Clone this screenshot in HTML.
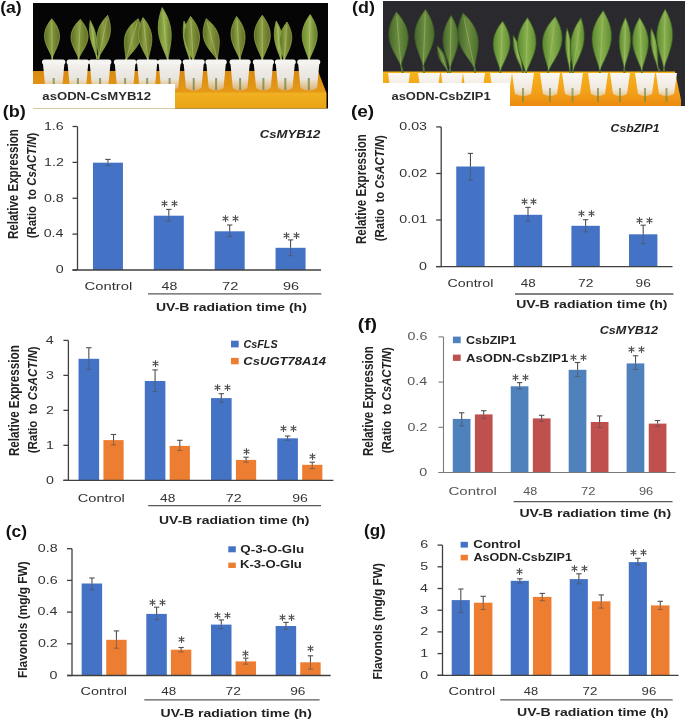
<!DOCTYPE html><html><head><meta charset="utf-8"><style>html,body{margin:0;padding:0;background:#fff;}svg{display:block;filter:blur(0.3px);}text{font-family:"Liberation Sans", sans-serif;}</style></head><body>
<svg width="685" height="721" viewBox="0 0 685 721">
<rect x="0.00" y="0.00" width="685.00" height="721.00" fill="#ffffff"/>
<rect x="33.00" y="3.00" width="295.00" height="105.50" fill="#050505"/>
<defs><linearGradient id="rackA" x1="0" y1="0" x2="0" y2="1"><stop offset="0" stop-color="#d98a10"/><stop offset="0.55" stop-color="#e49a18"/><stop offset="0.6" stop-color="#f0b020"/><stop offset="1" stop-color="#eaa414"/></linearGradient><linearGradient id="lfA" x1="0" y1="0" x2="1" y2="0"><stop offset="0" stop-color="#5a6e22"/><stop offset="0.45" stop-color="#8c9e44"/><stop offset="0.6" stop-color="#7a9034"/><stop offset="1" stop-color="#6a6a2a"/></linearGradient><linearGradient id="lfA2" x1="0" y1="0" x2="1" y2="0"><stop offset="0" stop-color="#6a8a2a"/><stop offset="0.5" stop-color="#98b050"/><stop offset="1" stop-color="#5f7a26"/></linearGradient><linearGradient id="tubeA" x1="0" y1="0" x2="0" y2="1"><stop offset="0" stop-color="#f4f2ee"/><stop offset="0.6" stop-color="#e8e4de"/><stop offset="0.66" stop-color="#e9dcc4"/><stop offset="1" stop-color="#dcb070"/></linearGradient></defs>
<polygon points="33,71 318,71 326.5,93 326.5,108.5 33,108.5" fill="url(#rackA)"/>
<path d="M52.3,60.0L52.2,56.0" stroke="#98b048" stroke-width="1.6"/>
<path d="M52.3,58.0 C54.1,52.1 59.6,44.2 59.5,36.3 S54.8,22.7 51.7,18.8 C48.8,22.8 44.3,28.7 44.5,36.5 S50.3,52.1 52.3,58.0Z" fill="url(#lfA)" stroke="#98b048" stroke-width="0.7"/>
<path d="M52.3,57.2L51.7,21.9" stroke="#c8c890" stroke-width="0.8" opacity="0.6"/>
<path d="M78.5,60.5L78.7,56.5" stroke="#98b048" stroke-width="1.6"/>
<path d="M78.6,58.5 C81.0,52.7 87.7,45.2 88.0,37.3 S83.5,23.4 80.3,19.3 C76.7,23.1 71.4,28.7 71.0,36.6 S76.7,52.5 78.6,58.5Z" fill="url(#lfA)" stroke="#98b048" stroke-width="0.7"/>
<path d="M78.6,57.7L80.2,22.4" stroke="#c8c890" stroke-width="0.8" opacity="0.6"/>
<path d="M97.2,59.0L96.5,55.1" stroke="#98b048" stroke-width="1.6"/>
<path d="M96.8,57.0 C96.6,51.4 97.5,43.7 96.1,36.4 S92.0,23.9 90.2,20.5 C89.7,24.4 88.9,30.2 90.2,37.5 S95.1,51.7 96.8,57.0Z" fill="url(#lfA2)" stroke="#98b048" stroke-width="0.7"/>
<path d="M96.7,56.3L90.7,23.4" stroke="#c8c890" stroke-width="0.8" opacity="0.6"/>
<path d="M98.4,59.0L99.2,55.1" stroke="#98b048" stroke-width="1.6"/>
<path d="M98.8,57.0 C101.7,51.1 108.0,43.7 109.8,35.4 S109.3,20.0 107.7,15.3 C104.4,19.0 99.4,24.4 97.6,32.8 S98.6,50.5 98.8,57.0Z" fill="url(#lfA)" stroke="#98b048" stroke-width="0.7"/>
<path d="M99.0,56.2L107.0,18.6" stroke="#c8c890" stroke-width="0.8" opacity="0.6"/>
<path d="M125.4,62.0L126.5,58.2" stroke="#98b048" stroke-width="1.6"/>
<path d="M126.0,60.1 C129.7,54.4 137.7,47.8 140.2,39.5 S140.0,23.7 138.3,18.7 C134.1,22.0 127.8,26.8 125.3,35.1 S126.0,53.3 126.0,60.1Z" fill="url(#lfA)" stroke="#98b048" stroke-width="0.7"/>
<path d="M126.2,59.3L137.3,22.0" stroke="#c8c890" stroke-width="0.8" opacity="0.6"/>
<path d="M148.2,62.5L147.7,58.5" stroke="#98b048" stroke-width="1.6"/>
<path d="M148.0,60.5 C148.8,53.9 152.7,44.7 151.7,36.1 S146.1,21.5 143.0,17.5 C140.9,22.1 137.8,29.0 138.8,37.6 S145.6,54.2 148.0,60.5Z" fill="url(#lfA)" stroke="#98b048" stroke-width="0.7"/>
<path d="M147.9,59.7L143.4,20.9" stroke="#c8c890" stroke-width="0.8" opacity="0.6"/>
<path d="M168.1,63.0L167.7,59.0" stroke="#98b048" stroke-width="1.6"/>
<path d="M167.9,61.0 C168.6,52.8 172.1,41.7 171.0,31.0 S165.3,12.7 162.2,7.6 C160.3,13.2 157.4,21.6 158.5,32.3 S165.5,53.2 167.9,61.0Z" fill="url(#lfA2)" stroke="#98b048" stroke-width="0.7"/>
<path d="M167.8,59.9L162.7,11.9" stroke="#c8c890" stroke-width="0.8" opacity="0.6"/>
<path d="M190.5,63.0L189.9,59.0" stroke="#98b048" stroke-width="1.6"/>
<path d="M190.2,61.0 C190.0,54.9 191.0,46.6 189.8,38.6 S185.8,24.8 184.0,21.0 C183.4,25.2 182.6,31.5 183.8,39.5 S188.5,55.1 190.2,61.0Z" fill="url(#lfA2)" stroke="#98b048" stroke-width="0.7"/>
<path d="M190.1,60.2L184.5,24.2" stroke="#c8c890" stroke-width="0.8" opacity="0.6"/>
<path d="M193.4,63.0L193.2,59.0" stroke="#98b048" stroke-width="1.6"/>
<path d="M193.3,61.0 C194.8,54.2 200.1,44.9 199.5,36.0 S194.0,20.7 190.6,16.4 C187.8,21.0 183.5,28.0 184.1,36.9 S190.9,54.4 193.3,61.0Z" fill="url(#lfA)" stroke="#98b048" stroke-width="0.7"/>
<path d="M193.2,60.1L190.8,20.0" stroke="#c8c890" stroke-width="0.8" opacity="0.6"/>
<path d="M217.9,62.0L216.9,58.1" stroke="#98b048" stroke-width="1.6"/>
<path d="M217.4,60.1 C217.5,53.4 220.7,43.6 218.5,35.4 S210.2,22.1 206.2,18.7 C204.4,23.6 201.8,31.0 204.0,39.3 S213.9,54.4 217.4,60.1Z" fill="url(#lfA)" stroke="#98b048" stroke-width="0.7"/>
<path d="M217.2,59.2L207.1,22.0" stroke="#c8c890" stroke-width="0.8" opacity="0.6"/>
<path d="M240.0,61.5L239.7,57.5" stroke="#98b048" stroke-width="1.6"/>
<path d="M239.8,59.5 C241.1,52.9 245.7,43.9 245.0,35.3 S239.7,20.5 236.6,16.4 C234.1,20.9 230.4,27.7 231.1,36.3 S237.6,53.2 239.8,59.5Z" fill="url(#lfA)" stroke="#98b048" stroke-width="0.7"/>
<path d="M239.8,58.6L236.9,19.8" stroke="#c8c890" stroke-width="0.8" opacity="0.6"/>
<path d="M262.3,62.0L262.3,58.0" stroke="#98b048" stroke-width="1.6"/>
<path d="M262.3,60.0 C264.3,53.3 270.3,44.3 270.3,35.4 S265.5,19.7 262.3,15.2 C259.1,19.7 254.3,26.4 254.3,35.4 S260.3,53.3 262.3,60.0Z" fill="url(#lfA)" stroke="#98b048" stroke-width="0.7"/>
<path d="M262.3,59.1L262.3,18.8" stroke="#c8c890" stroke-width="0.8" opacity="0.6"/>
<path d="M281.5,62.6L281.0,58.6" stroke="#98b048" stroke-width="1.6"/>
<path d="M281.3,60.6 C281.5,54.5 283.5,46.3 282.5,38.3 S278.4,24.8 276.3,21.0 C275.2,25.2 273.6,31.4 274.6,39.3 S279.5,54.8 281.3,60.6Z" fill="url(#lfA2)" stroke="#98b048" stroke-width="0.7"/>
<path d="M281.2,59.8L276.7,24.2" stroke="#c8c890" stroke-width="0.8" opacity="0.6"/>
<path d="M284.0,62.6L284.3,58.6" stroke="#98b048" stroke-width="1.6"/>
<path d="M284.1,60.6 C286.1,54.9 291.1,47.5 291.7,39.8 S289.1,26.0 287.0,22.0 C284.3,25.7 280.3,31.2 279.7,38.9 S283.1,54.7 284.1,60.6Z" fill="url(#lfA)" stroke="#98b048" stroke-width="0.7"/>
<path d="M284.2,59.8L286.8,25.1" stroke="#c8c890" stroke-width="0.8" opacity="0.6"/>
<path d="M309.0,62.6L309.1,58.6" stroke="#98b048" stroke-width="1.6"/>
<path d="M309.0,60.6 C311.1,53.7 317.0,44.7 317.2,35.4 S313.1,19.2 310.2,14.5 C307.1,19.0 302.4,25.8 302.2,35.1 S307.3,53.6 309.0,60.6Z" fill="url(#lfA2)" stroke="#98b048" stroke-width="0.7"/>
<path d="M309.1,59.7L310.1,18.2" stroke="#c8c890" stroke-width="0.8" opacity="0.6"/>
<path d="M42.8,62 L64.6,62 L62.1,88 Q53.7,93 45.3,88 Z" fill="url(#tubeA)"/>
<rect x="42.0" y="59.5" width="23.4" height="5" rx="2.5" fill="#f6f4f0"/>
<path d="M53.7,78 L53.7,90" stroke="#6a8040" stroke-width="2" opacity="0.7"/>
<path d="M67.4,62 L88.4,62 L85.9,88 Q77.9,93 69.9,88 Z" fill="url(#tubeA)"/>
<rect x="66.6" y="59.5" width="22.6" height="5" rx="2.5" fill="#f6f4f0"/>
<path d="M77.9,78 L77.9,90" stroke="#6a8040" stroke-width="2" opacity="0.7"/>
<path d="M89.6,62 L110.6,62 L108.1,88 Q100.1,93 92.1,88 Z" fill="url(#tubeA)"/>
<rect x="88.8" y="59.5" width="22.6" height="5" rx="2.5" fill="#f6f4f0"/>
<path d="M100.1,78 L100.1,90" stroke="#6a8040" stroke-width="2" opacity="0.7"/>
<path d="M114.6,62 L135.6,62 L133.1,88 Q125.1,93 117.1,88 Z" fill="url(#tubeA)"/>
<rect x="113.8" y="59.5" width="22.6" height="5" rx="2.5" fill="#f6f4f0"/>
<path d="M125.1,78 L125.1,90" stroke="#6a8040" stroke-width="2" opacity="0.7"/>
<path d="M137.0,62 L157.3,62 L154.8,88 Q147.2,93 139.5,88 Z" fill="url(#tubeA)"/>
<rect x="136.2" y="59.5" width="21.9" height="5" rx="2.5" fill="#f6f4f0"/>
<path d="M147.2,78 L147.2,90" stroke="#6a8040" stroke-width="2" opacity="0.7"/>
<path d="M158.5,62 L180.7,62 L178.2,88 Q169.6,93 161.0,88 Z" fill="url(#tubeA)"/>
<rect x="157.7" y="59.5" width="23.8" height="5" rx="2.5" fill="#f6f4f0"/>
<path d="M169.6,78 L169.6,90" stroke="#6a8040" stroke-width="2" opacity="0.7"/>
<path d="M183.5,62 L203.9,62 L201.4,88 Q193.7,93 186.0,88 Z" fill="url(#tubeA)"/>
<rect x="182.7" y="59.5" width="22.0" height="5" rx="2.5" fill="#f6f4f0"/>
<path d="M193.7,78 L193.7,90" stroke="#6a8040" stroke-width="2" opacity="0.7"/>
<path d="M206.2,62 L226.0,62 L223.5,88 Q216.1,93 208.7,88 Z" fill="url(#tubeA)"/>
<rect x="205.4" y="59.5" width="21.4" height="5" rx="2.5" fill="#f6f4f0"/>
<path d="M216.1,78 L216.1,90" stroke="#6a8040" stroke-width="2" opacity="0.7"/>
<path d="M230.3,62 L249.9,62 L247.4,88 Q240.1,93 232.8,88 Z" fill="url(#tubeA)"/>
<rect x="229.5" y="59.5" width="21.2" height="5" rx="2.5" fill="#f6f4f0"/>
<path d="M240.1,78 L240.1,90" stroke="#6a8040" stroke-width="2" opacity="0.7"/>
<path d="M253.6,62 L273.2,62 L270.7,88 Q263.4,93 256.1,88 Z" fill="url(#tubeA)"/>
<rect x="252.8" y="59.5" width="21.2" height="5" rx="2.5" fill="#f6f4f0"/>
<path d="M263.4,78 L263.4,90" stroke="#6a8040" stroke-width="2" opacity="0.7"/>
<path d="M275.6,62 L295.0,62 L292.5,88 Q285.3,93 278.1,88 Z" fill="url(#tubeA)"/>
<rect x="274.8" y="59.5" width="21.0" height="5" rx="2.5" fill="#f6f4f0"/>
<path d="M285.3,78 L285.3,90" stroke="#6a8040" stroke-width="2" opacity="0.7"/>
<path d="M298.0,62 L319.5,62 L317.0,88 Q308.8,93 300.5,88 Z" fill="url(#tubeA)"/>
<rect x="297.2" y="59.5" width="23.1" height="5" rx="2.5" fill="#f6f4f0"/>
<path d="M308.8,78 L308.8,90" stroke="#6a8040" stroke-width="2" opacity="0.7"/>
<rect x="33.00" y="84.00" width="142.00" height="24.50" fill="#ffffff"/>
<text x="42.37" y="100.40" font-size="11.8" font-weight="bold" fill="#2a2a2a" textLength="108.60" lengthAdjust="spacingAndGlyphs">asODN-CsMYB12</text>
<rect x="383.00" y="1.00" width="302.00" height="105.00" fill="#2a2a2e"/>
<defs><linearGradient id="rackD" x1="0" y1="0" x2="0" y2="1"><stop offset="0" stop-color="#f6b418"/><stop offset="0.6" stop-color="#f2a018"/><stop offset="1" stop-color="#ec8a10"/></linearGradient><linearGradient id="lfD" x1="0" y1="0" x2="1" y2="0"><stop offset="0" stop-color="#44662a"/><stop offset="0.5" stop-color="#6c8c40"/><stop offset="1" stop-color="#4a6e2c"/></linearGradient><linearGradient id="lfD2" x1="0" y1="0" x2="1" y2="0"><stop offset="0" stop-color="#5a8a30"/><stop offset="0.5" stop-color="#8ab04e"/><stop offset="1" stop-color="#5e8c32"/></linearGradient><linearGradient id="tubeD" x1="0" y1="0" x2="0" y2="1"><stop offset="0" stop-color="#faf8f4"/><stop offset="0.7" stop-color="#f0e8de"/><stop offset="1" stop-color="#e8c890"/></linearGradient></defs>
<polygon points="383,71.5 675,71.5 681,100 681,106 383,106" fill="url(#rackD)"/>
<path d="M403.4,76.0L401.0,65.4" stroke="#5a7a34" stroke-width="1.8"/>
<path d="M401.0,66.4 C402.7,58.0 409.1,46.4 408.2,35.5 S400.7,16.8 396.4,11.7 C393.0,17.5 387.8,26.2 388.8,37.1 S397.9,58.4 401.0,66.4Z" fill="url(#lfD)" stroke="#3a5422" stroke-width="0.7"/>
<path d="M400.9,65.3L396.8,16.1" stroke="#a8c878" stroke-width="0.8" opacity="0.6"/>
<path d="M424.4,75.0L423.2,65.4" stroke="#5a7a34" stroke-width="1.8"/>
<path d="M423.2,66.4 C426.0,57.9 433.7,46.8 434.2,35.4 S429.2,15.2 425.5,9.3 C421.4,14.9 415.2,23.2 414.7,34.6 S421.1,57.7 423.2,66.4Z" fill="url(#lfD)" stroke="#3a5422" stroke-width="0.7"/>
<path d="M423.2,65.3L425.3,13.9" stroke="#a8c878" stroke-width="0.8" opacity="0.6"/>
<path d="M448.0,74.0L447.7,70.0" stroke="#5a7a34" stroke-width="1.8"/>
<path d="M447.7,71.0 C446.8,66.9 446.8,61.0 444.7,55.9 S439.4,47.7 437.2,45.6 C437.1,48.6 437.1,53.1 439.2,58.2 S445.4,67.5 447.7,71.0Z" fill="url(#lfD)" stroke="#3a5422" stroke-width="0.7"/>
<path d="M447.5,70.5L438.0,47.6" stroke="#a8c878" stroke-width="0.8" opacity="0.6"/>
<path d="M450.5,75.0L450.0,67.7" stroke="#5a7a34" stroke-width="1.8"/>
<path d="M450.0,68.7 C452.1,60.7 458.2,50.1 458.4,39.4 S454.2,20.6 451.2,15.2 C448.0,20.5 443.2,28.4 442.9,39.1 S448.2,60.6 450.0,68.7Z" fill="url(#lfD)" stroke="#3a5422" stroke-width="0.7"/>
<path d="M450.0,67.6L451.1,19.5" stroke="#a8c878" stroke-width="0.8" opacity="0.6"/>
<path d="M475.5,75.0L474.6,67.7" stroke="#5a7a34" stroke-width="1.8"/>
<path d="M474.6,68.7 C475.2,59.8 480.0,47.1 477.7,36.0 S467.9,17.6 462.9,12.8 C460.3,19.2 456.3,28.8 458.6,40.0 S470.5,60.8 474.6,68.7Z" fill="url(#lfD)" stroke="#3a5422" stroke-width="0.7"/>
<path d="M474.4,67.6L463.8,17.3" stroke="#a8c878" stroke-width="0.8" opacity="0.6"/>
<path d="M500.5,75.0L500.3,70.0" stroke="#5a7a34" stroke-width="1.8"/>
<path d="M500.3,71.0 C502.8,63.6 509.6,53.9 510.1,43.9 S505.8,26.2 502.6,21.0 C499.0,25.8 493.5,33.1 493.1,43.1 S498.5,63.4 500.3,71.0Z" fill="url(#lfD2)" stroke="#3a5422" stroke-width="0.7"/>
<path d="M500.3,70.0L502.4,25.0" stroke="#a8c878" stroke-width="0.8" opacity="0.6"/>
<path d="M523.0,74.0L522.5,70.0" stroke="#5a7a34" stroke-width="1.8"/>
<path d="M522.5,71.0 C521.8,65.4 522.1,57.6 520.3,50.4 S515.3,38.3 513.2,35.0 C513.0,38.9 512.6,44.8 514.5,52.0 S520.4,65.8 522.5,71.0Z" fill="url(#lfD2)" stroke="#3a5422" stroke-width="0.7"/>
<path d="M522.3,70.3L513.9,37.9" stroke="#a8c878" stroke-width="0.8" opacity="0.6"/>
<path d="M526.5,75.0L526.0,72.4" stroke="#5a7a34" stroke-width="1.8"/>
<path d="M526.0,73.4 C528.5,65.1 535.8,54.1 536.1,42.9 S531.0,23.2 527.5,17.5 C523.7,23.0 517.9,31.2 517.6,42.4 S523.9,65.0 526.0,73.4Z" fill="url(#lfD2)" stroke="#3a5422" stroke-width="0.7"/>
<path d="M526.0,72.3L527.4,22.0" stroke="#a8c878" stroke-width="0.8" opacity="0.6"/>
<path d="M548.0,76.0L548.4,70.0" stroke="#5a7a34" stroke-width="1.8"/>
<path d="M548.4,71.0 C551.9,63.1 560.5,53.1 561.9,42.2 S558.6,22.4 555.4,16.4 C550.8,21.4 544.0,28.8 542.6,39.7 S547.0,62.5 548.4,71.0Z" fill="url(#lfD2)" stroke="#3a5422" stroke-width="0.7"/>
<path d="M548.5,69.9L554.8,20.8" stroke="#a8c878" stroke-width="0.8" opacity="0.6"/>
<path d="M571.0,76.0L570.0,70.0" stroke="#5a7a34" stroke-width="1.8"/>
<path d="M570.0,71.0 C570.3,64.5 571.9,55.7 571.3,47.1 S568.5,32.2 567.0,28.0 C566.1,32.4 564.8,39.0 565.4,47.6 S568.8,64.6 570.0,71.0Z" fill="url(#lfD2)" stroke="#3a5422" stroke-width="0.7"/>
<path d="M569.9,70.1L567.2,31.4" stroke="#a8c878" stroke-width="0.8" opacity="0.6"/>
<path d="M573.0,76.0L572.9,70.0" stroke="#5a7a34" stroke-width="1.8"/>
<path d="M572.9,71.0 C575.7,63.2 582.2,53.2 583.8,42.5 S582.8,23.2 581.0,17.5 C577.6,22.5 572.5,29.9 570.9,40.6 S572.5,62.7 572.9,71.0Z" fill="url(#lfD2)" stroke="#3a5422" stroke-width="0.7"/>
<path d="M573.1,69.9L580.4,21.8" stroke="#a8c878" stroke-width="0.8" opacity="0.6"/>
<path d="M600.0,75.0L599.8,70.0" stroke="#5a7a34" stroke-width="1.8"/>
<path d="M599.8,71.0 C602.8,62.1 610.8,50.4 611.5,38.3 S606.8,16.8 603.3,10.5 C599.1,16.3 592.7,25.1 592.0,37.2 S597.9,61.8 599.8,71.0Z" fill="url(#lfD2)" stroke="#3a5422" stroke-width="0.7"/>
<path d="M599.9,69.8L603.0,15.3" stroke="#a8c878" stroke-width="0.8" opacity="0.6"/>
<path d="M624.3,75.0L624.3,67.8" stroke="#5a7a34" stroke-width="1.8"/>
<path d="M624.3,68.8 C625.9,61.1 630.6,51.0 630.8,40.7 S627.7,22.7 625.5,17.5 C623.0,22.6 619.4,30.2 619.1,40.4 S623.0,61.1 624.3,68.8Z" fill="url(#lfD2)" stroke="#3a5422" stroke-width="0.7"/>
<path d="M624.3,67.8L625.4,21.6" stroke="#a8c878" stroke-width="0.8" opacity="0.6"/>
<path d="M642.0,75.0L641.8,70.0" stroke="#5a7a34" stroke-width="1.8"/>
<path d="M641.8,71.0 C643.5,62.9 649.0,51.9 648.5,41.2 S642.9,22.7 639.5,17.5 C636.5,23.0 632.1,31.2 632.5,41.9 S639.5,63.1 641.8,71.0Z" fill="url(#lfD2)" stroke="#3a5422" stroke-width="0.7"/>
<path d="M641.8,69.9L639.7,21.8" stroke="#a8c878" stroke-width="0.8" opacity="0.6"/>
<path d="M660.0,72.0L658.0,67.8" stroke="#5a7a34" stroke-width="1.8"/>
<path d="M658.0,68.8 C657.7,62.6 658.6,54.0 657.2,45.9 S653.1,31.9 651.2,28.0 C650.7,32.3 649.9,38.7 651.3,46.9 S656.2,62.8 658.0,68.8Z" fill="url(#lfD2)" stroke="#3a5422" stroke-width="0.7"/>
<path d="M657.9,68.0L651.7,31.3" stroke="#a8c878" stroke-width="0.8" opacity="0.6"/>
<path d="M664.0,72.0L664.0,67.8" stroke="#5a7a34" stroke-width="1.8"/>
<path d="M664.0,68.8 C666.2,59.9 672.4,48.0 672.7,36.0 S668.3,15.0 665.2,8.9 C661.9,14.8 656.9,23.7 656.7,35.7 S662.2,59.8 664.0,68.8Z" fill="url(#lfD2)" stroke="#3a5422" stroke-width="0.7"/>
<path d="M664.0,67.6L665.1,13.7" stroke="#a8c878" stroke-width="0.8" opacity="0.6"/>
<path d="M388.0,73 L410.0,73 L407.0,94 Q399.0,98 391.0,94 Z" fill="url(#tubeD)"/>
<path d="M399.0,88 L399.0,102" stroke="#7a8a4a" stroke-width="2" opacity="0.7"/>
<path d="M418.0,73 L440.0,73 L437.0,94 Q429.0,98 421.0,94 Z" fill="url(#tubeD)"/>
<path d="M429.0,88 L429.0,102" stroke="#7a8a4a" stroke-width="2" opacity="0.7"/>
<path d="M441.0,73 L463.0,73 L460.0,94 Q452.0,98 444.0,94 Z" fill="url(#tubeD)"/>
<path d="M452.0,88 L452.0,102" stroke="#7a8a4a" stroke-width="2" opacity="0.7"/>
<path d="M463.0,73 L485.0,73 L482.0,94 Q474.0,98 466.0,94 Z" fill="url(#tubeD)"/>
<path d="M474.0,88 L474.0,102" stroke="#7a8a4a" stroke-width="2" opacity="0.7"/>
<path d="M490.0,73 L512.0,73 L509.0,94 Q501.0,98 493.0,94 Z" fill="url(#tubeD)"/>
<path d="M501.0,88 L501.0,102" stroke="#7a8a4a" stroke-width="2" opacity="0.7"/>
<path d="M512.0,73 L534.0,73 L531.0,94 Q523.0,98 515.0,94 Z" fill="url(#tubeD)"/>
<path d="M523.0,88 L523.0,102" stroke="#7a8a4a" stroke-width="2" opacity="0.7"/>
<path d="M540.0,73 L560.0,73 L557.0,94 Q550.0,98 543.0,94 Z" fill="url(#tubeD)"/>
<path d="M550.0,88 L550.0,102" stroke="#7a8a4a" stroke-width="2" opacity="0.7"/>
<path d="M562.0,73 L583.0,73 L580.0,94 Q572.5,98 565.0,94 Z" fill="url(#tubeD)"/>
<path d="M572.5,88 L572.5,102" stroke="#7a8a4a" stroke-width="2" opacity="0.7"/>
<path d="M588.0,73 L608.0,73 L605.0,94 Q598.0,98 591.0,94 Z" fill="url(#tubeD)"/>
<path d="M598.0,88 L598.0,102" stroke="#7a8a4a" stroke-width="2" opacity="0.7"/>
<path d="M610.0,73 L630.0,73 L627.0,94 Q620.0,98 613.0,94 Z" fill="url(#tubeD)"/>
<path d="M620.0,88 L620.0,102" stroke="#7a8a4a" stroke-width="2" opacity="0.7"/>
<path d="M635.0,73 L655.0,73 L652.0,94 Q645.0,98 638.0,94 Z" fill="url(#tubeD)"/>
<path d="M645.0,88 L645.0,102" stroke="#7a8a4a" stroke-width="2" opacity="0.7"/>
<path d="M656.0,73 L677.0,73 L674.0,94 Q666.5,98 659.0,94 Z" fill="url(#tubeD)"/>
<path d="M666.5,88 L666.5,102" stroke="#7a8a4a" stroke-width="2" opacity="0.7"/>
<rect x="383.00" y="83.00" width="127.00" height="23.00" fill="#ffffff"/>
<text x="391.47" y="99.60" font-size="11.8" font-weight="bold" fill="#2a2a2a" textLength="99.23" lengthAdjust="spacingAndGlyphs">asODN-CsbZIP1</text>
<text x="0.19" y="12.50" font-size="16" font-weight="bold" fill="#111" textLength="21.53" lengthAdjust="spacingAndGlyphs">(a)</text>
<text x="2.76" y="116.70" font-size="16" font-weight="bold" fill="#111" textLength="23.07" lengthAdjust="spacingAndGlyphs">(b)</text>
<text x="5.70" y="537.40" font-size="16" font-weight="bold" fill="#111" textLength="21.31" lengthAdjust="spacingAndGlyphs">(c)</text>
<text x="352.07" y="13.40" font-size="16" font-weight="bold" fill="#111" textLength="22.85" lengthAdjust="spacingAndGlyphs">(d)</text>
<text x="350.92" y="116.60" font-size="16" font-weight="bold" fill="#111" textLength="23.27" lengthAdjust="spacingAndGlyphs">(e)</text>
<text x="357.70" y="329.50" font-size="16" font-weight="bold" fill="#111" textLength="19.40" lengthAdjust="spacingAndGlyphs">(f)</text>
<text x="364.01" y="535.60" font-size="16" font-weight="bold" fill="#111" textLength="21.77" lengthAdjust="spacingAndGlyphs">(g)</text>
<rect x="92.94" y="162.70" width="30.00" height="107.30" fill="#4472c4"/>
<rect x="153.81" y="215.70" width="30.00" height="54.30" fill="#4472c4"/>
<rect x="214.69" y="231.30" width="30.00" height="38.70" fill="#4472c4"/>
<rect x="275.56" y="247.80" width="30.00" height="22.20" fill="#4472c4"/>
<line x1="107.94" y1="159.40" x2="107.94" y2="162.70" stroke="#505050" stroke-width="1.1"/>
<line x1="107.94" y1="162.70" x2="107.94" y2="165.50" stroke="#505050" stroke-width="1.1" opacity="0.55"/>
<line x1="105.24" y1="159.40" x2="110.64" y2="159.40" stroke="#505050" stroke-width="1.1"/>
<line x1="105.24" y1="165.50" x2="110.64" y2="165.50" stroke="#505050" stroke-width="1.1" opacity="0.55"/>
<line x1="168.81" y1="209.40" x2="168.81" y2="215.70" stroke="#505050" stroke-width="1.1"/>
<line x1="168.81" y1="215.70" x2="168.81" y2="221.00" stroke="#505050" stroke-width="1.1" opacity="0.55"/>
<line x1="166.11" y1="209.40" x2="171.51" y2="209.40" stroke="#505050" stroke-width="1.1"/>
<line x1="166.11" y1="221.00" x2="171.51" y2="221.00" stroke="#505050" stroke-width="1.1" opacity="0.55"/>
<line x1="229.69" y1="225.00" x2="229.69" y2="231.30" stroke="#505050" stroke-width="1.1"/>
<line x1="229.69" y1="231.30" x2="229.69" y2="236.50" stroke="#505050" stroke-width="1.1" opacity="0.55"/>
<line x1="226.99" y1="225.00" x2="232.39" y2="225.00" stroke="#505050" stroke-width="1.1"/>
<line x1="226.99" y1="236.50" x2="232.39" y2="236.50" stroke="#505050" stroke-width="1.1" opacity="0.55"/>
<line x1="290.56" y1="239.90" x2="290.56" y2="247.80" stroke="#505050" stroke-width="1.1"/>
<line x1="290.56" y1="247.80" x2="290.56" y2="255.70" stroke="#505050" stroke-width="1.1" opacity="0.55"/>
<line x1="287.86" y1="239.90" x2="293.26" y2="239.90" stroke="#505050" stroke-width="1.1"/>
<line x1="287.86" y1="255.70" x2="293.26" y2="255.70" stroke="#505050" stroke-width="1.1" opacity="0.55"/>
<path d="M164.50,206.40L164.50,200.60M161.99,204.95L167.01,202.05M161.99,202.05L167.01,204.95" stroke="#4d4d4d" stroke-width="1.1" fill="none" stroke-linecap="round"/>
<path d="M174.50,206.40L174.50,200.60M171.99,204.95L177.01,202.05M171.99,202.05L177.01,204.95" stroke="#4d4d4d" stroke-width="1.1" fill="none" stroke-linecap="round"/>
<path d="M225.50,221.40L225.50,215.60M222.99,219.95L228.01,217.05M222.99,217.05L228.01,219.95" stroke="#4d4d4d" stroke-width="1.1" fill="none" stroke-linecap="round"/>
<path d="M235.50,221.40L235.50,215.60M232.99,219.95L238.01,217.05M232.99,217.05L238.01,219.95" stroke="#4d4d4d" stroke-width="1.1" fill="none" stroke-linecap="round"/>
<path d="M286.50,238.40L286.50,232.60M283.99,236.95L289.01,234.05M283.99,234.05L289.01,236.95" stroke="#4d4d4d" stroke-width="1.1" fill="none" stroke-linecap="round"/>
<path d="M296.50,238.40L296.50,232.60M293.99,236.95L299.01,234.05M293.99,234.05L299.01,236.95" stroke="#4d4d4d" stroke-width="1.1" fill="none" stroke-linecap="round"/>
<line x1="77.50" y1="126.50" x2="77.50" y2="270.00" stroke="#404040" stroke-width="1.3"/>
<line x1="72.50" y1="270.00" x2="321.00" y2="270.00" stroke="#404040" stroke-width="1.3"/>
<line x1="72.50" y1="270.00" x2="77.50" y2="270.00" stroke="#404040" stroke-width="1.3"/>
<text x="55.72" y="273.30" font-size="11.4" fill="#333333" textLength="7.93" lengthAdjust="spacingAndGlyphs">0</text>
<line x1="72.50" y1="234.12" x2="77.50" y2="234.12" stroke="#404040" stroke-width="1.3"/>
<text x="43.71" y="237.43" font-size="11.4" fill="#333333" textLength="19.81" lengthAdjust="spacingAndGlyphs">0.4</text>
<line x1="72.50" y1="198.25" x2="77.50" y2="198.25" stroke="#404040" stroke-width="1.3"/>
<text x="43.91" y="201.55" font-size="11.4" fill="#333333" textLength="19.81" lengthAdjust="spacingAndGlyphs">0.8</text>
<line x1="72.50" y1="162.38" x2="77.50" y2="162.38" stroke="#404040" stroke-width="1.3"/>
<text x="44.01" y="165.68" font-size="11.4" fill="#333333" textLength="19.81" lengthAdjust="spacingAndGlyphs">1.2</text>
<line x1="72.50" y1="126.50" x2="77.50" y2="126.50" stroke="#404040" stroke-width="1.3"/>
<text x="43.91" y="129.80" font-size="11.4" fill="#333333" textLength="19.81" lengthAdjust="spacingAndGlyphs">1.6</text>
<text x="259.72" y="138.40" font-size="10.8" font-weight="bold" font-style="italic" fill="#222" textLength="60.66" lengthAdjust="spacingAndGlyphs">CsMYB12</text>
<rect x="78.53" y="358.80" width="20.60" height="121.50" fill="#4472c4"/>
<rect x="144.78" y="381.00" width="20.60" height="99.30" fill="#4472c4"/>
<rect x="211.03" y="398.10" width="20.60" height="82.20" fill="#4472c4"/>
<rect x="277.27" y="438.30" width="20.60" height="42.00" fill="#4472c4"/>
<rect x="103.43" y="440.10" width="20.20" height="40.20" fill="#ed7d31"/>
<rect x="169.68" y="445.90" width="20.20" height="34.40" fill="#ed7d31"/>
<rect x="235.93" y="459.90" width="20.20" height="20.40" fill="#ed7d31"/>
<rect x="302.17" y="464.80" width="20.20" height="15.50" fill="#ed7d31"/>
<line x1="88.83" y1="347.70" x2="88.83" y2="358.80" stroke="#505050" stroke-width="1.1"/>
<line x1="88.83" y1="358.80" x2="88.83" y2="369.40" stroke="#505050" stroke-width="1.1" opacity="0.55"/>
<line x1="86.12" y1="347.70" x2="91.53" y2="347.70" stroke="#505050" stroke-width="1.1"/>
<line x1="86.12" y1="369.40" x2="91.53" y2="369.40" stroke="#505050" stroke-width="1.1" opacity="0.55"/>
<line x1="155.08" y1="369.90" x2="155.08" y2="381.00" stroke="#505050" stroke-width="1.1"/>
<line x1="155.08" y1="381.00" x2="155.08" y2="391.50" stroke="#505050" stroke-width="1.1" opacity="0.55"/>
<line x1="152.38" y1="369.90" x2="157.78" y2="369.90" stroke="#505050" stroke-width="1.1"/>
<line x1="152.38" y1="391.50" x2="157.78" y2="391.50" stroke="#505050" stroke-width="1.1" opacity="0.55"/>
<line x1="221.33" y1="393.70" x2="221.33" y2="398.10" stroke="#505050" stroke-width="1.1"/>
<line x1="221.33" y1="398.10" x2="221.33" y2="402.20" stroke="#505050" stroke-width="1.1" opacity="0.55"/>
<line x1="218.63" y1="393.70" x2="224.03" y2="393.70" stroke="#505050" stroke-width="1.1"/>
<line x1="218.63" y1="402.20" x2="224.03" y2="402.20" stroke="#505050" stroke-width="1.1" opacity="0.55"/>
<line x1="287.57" y1="436.00" x2="287.57" y2="438.30" stroke="#505050" stroke-width="1.1"/>
<line x1="287.57" y1="438.30" x2="287.57" y2="440.30" stroke="#505050" stroke-width="1.1" opacity="0.55"/>
<line x1="284.88" y1="436.00" x2="290.27" y2="436.00" stroke="#505050" stroke-width="1.1"/>
<line x1="284.88" y1="440.30" x2="290.27" y2="440.30" stroke="#505050" stroke-width="1.1" opacity="0.55"/>
<line x1="113.53" y1="434.50" x2="113.53" y2="440.10" stroke="#505050" stroke-width="1.1"/>
<line x1="113.53" y1="440.10" x2="113.53" y2="444.80" stroke="#505050" stroke-width="1.1" opacity="0.55"/>
<line x1="110.83" y1="434.50" x2="116.23" y2="434.50" stroke="#505050" stroke-width="1.1"/>
<line x1="110.83" y1="444.80" x2="116.23" y2="444.80" stroke="#505050" stroke-width="1.1" opacity="0.55"/>
<line x1="179.78" y1="440.30" x2="179.78" y2="445.90" stroke="#505050" stroke-width="1.1"/>
<line x1="179.78" y1="445.90" x2="179.78" y2="450.50" stroke="#505050" stroke-width="1.1" opacity="0.55"/>
<line x1="177.08" y1="440.30" x2="182.47" y2="440.30" stroke="#505050" stroke-width="1.1"/>
<line x1="177.08" y1="450.50" x2="182.47" y2="450.50" stroke="#505050" stroke-width="1.1" opacity="0.55"/>
<line x1="246.03" y1="457.20" x2="246.03" y2="459.90" stroke="#505050" stroke-width="1.1"/>
<line x1="246.03" y1="459.90" x2="246.03" y2="462.20" stroke="#505050" stroke-width="1.1" opacity="0.55"/>
<line x1="243.33" y1="457.20" x2="248.72" y2="457.20" stroke="#505050" stroke-width="1.1"/>
<line x1="243.33" y1="462.20" x2="248.72" y2="462.20" stroke="#505050" stroke-width="1.1" opacity="0.55"/>
<line x1="312.27" y1="462.20" x2="312.27" y2="464.80" stroke="#505050" stroke-width="1.1"/>
<line x1="312.27" y1="464.80" x2="312.27" y2="468.60" stroke="#505050" stroke-width="1.1" opacity="0.55"/>
<line x1="309.57" y1="462.20" x2="314.97" y2="462.20" stroke="#505050" stroke-width="1.1"/>
<line x1="309.57" y1="468.60" x2="314.97" y2="468.60" stroke="#505050" stroke-width="1.1" opacity="0.55"/>
<path d="M155.50,366.40L155.50,360.60M152.99,364.95L158.01,362.05M152.99,362.05L158.01,364.95" stroke="#4d4d4d" stroke-width="1.1" fill="none" stroke-linecap="round"/>
<path d="M217.50,390.40L217.50,384.60M214.99,388.95L220.01,386.05M214.99,386.05L220.01,388.95" stroke="#4d4d4d" stroke-width="1.1" fill="none" stroke-linecap="round"/>
<path d="M227.50,390.40L227.50,384.60M224.99,388.95L230.01,386.05M224.99,386.05L230.01,388.95" stroke="#4d4d4d" stroke-width="1.1" fill="none" stroke-linecap="round"/>
<path d="M283.50,431.40L283.50,425.60M280.99,429.95L286.01,427.05M280.99,427.05L286.01,429.95" stroke="#4d4d4d" stroke-width="1.1" fill="none" stroke-linecap="round"/>
<path d="M293.50,431.40L293.50,425.60M290.99,429.95L296.01,427.05M290.99,427.05L296.01,429.95" stroke="#4d4d4d" stroke-width="1.1" fill="none" stroke-linecap="round"/>
<path d="M246.50,454.40L246.50,448.60M243.99,452.95L249.01,450.05M243.99,450.05L249.01,452.95" stroke="#4d4d4d" stroke-width="1.1" fill="none" stroke-linecap="round"/>
<path d="M312.50,459.40L312.50,453.60M309.99,457.95L315.01,455.05M309.99,455.05L315.01,457.95" stroke="#4d4d4d" stroke-width="1.1" fill="none" stroke-linecap="round"/>
<line x1="68.40" y1="340.40" x2="68.40" y2="480.30" stroke="#404040" stroke-width="1.3"/>
<line x1="63.40" y1="480.30" x2="333.40" y2="480.30" stroke="#404040" stroke-width="1.3"/>
<line x1="63.40" y1="480.30" x2="68.40" y2="480.30" stroke="#404040" stroke-width="1.3"/>
<text x="45.92" y="483.60" font-size="11.4" fill="#333333" textLength="7.93" lengthAdjust="spacingAndGlyphs">0</text>
<line x1="63.40" y1="445.32" x2="68.40" y2="445.32" stroke="#404040" stroke-width="1.3"/>
<text x="46.06" y="448.62" font-size="11.4" fill="#333333" textLength="7.93" lengthAdjust="spacingAndGlyphs">1</text>
<line x1="63.40" y1="410.35" x2="68.40" y2="410.35" stroke="#404040" stroke-width="1.3"/>
<text x="46.09" y="413.65" font-size="11.4" fill="#333333" textLength="7.93" lengthAdjust="spacingAndGlyphs">2</text>
<line x1="63.40" y1="375.38" x2="68.40" y2="375.38" stroke="#404040" stroke-width="1.3"/>
<text x="45.99" y="378.68" font-size="11.4" fill="#333333" textLength="7.93" lengthAdjust="spacingAndGlyphs">3</text>
<line x1="63.40" y1="340.40" x2="68.40" y2="340.40" stroke="#404040" stroke-width="1.3"/>
<text x="45.79" y="343.70" font-size="11.4" fill="#333333" textLength="7.93" lengthAdjust="spacingAndGlyphs">4</text>
<rect x="231.00" y="340.70" width="7.70" height="6.70" fill="#4472c4"/>
<rect x="231.00" y="357.90" width="7.70" height="6.40" fill="#ed7d31"/>
<text x="243.43" y="347.80" font-size="11.2" font-weight="bold" font-style="italic" fill="#222" textLength="34.23" lengthAdjust="spacingAndGlyphs">CsFLS</text>
<text x="243.32" y="364.70" font-size="11.2" font-weight="bold" font-style="italic" fill="#222" textLength="82.63" lengthAdjust="spacingAndGlyphs">CsUGT78A14</text>
<rect x="81.64" y="583.50" width="20.50" height="92.00" fill="#4472c4"/>
<rect x="146.31" y="613.90" width="20.50" height="61.60" fill="#4472c4"/>
<rect x="210.99" y="624.60" width="20.50" height="50.90" fill="#4472c4"/>
<rect x="275.66" y="626.00" width="20.50" height="49.50" fill="#4472c4"/>
<rect x="106.24" y="639.80" width="20.40" height="35.70" fill="#ed7d31"/>
<rect x="170.91" y="649.70" width="20.40" height="25.80" fill="#ed7d31"/>
<rect x="235.59" y="661.40" width="20.40" height="14.10" fill="#ed7d31"/>
<rect x="300.26" y="662.30" width="20.40" height="13.20" fill="#ed7d31"/>
<line x1="91.94" y1="578.00" x2="91.94" y2="583.50" stroke="#505050" stroke-width="1.1"/>
<line x1="91.94" y1="583.50" x2="91.94" y2="589.70" stroke="#505050" stroke-width="1.1" opacity="0.55"/>
<line x1="89.24" y1="578.00" x2="94.64" y2="578.00" stroke="#505050" stroke-width="1.1"/>
<line x1="89.24" y1="589.70" x2="94.64" y2="589.70" stroke="#505050" stroke-width="1.1" opacity="0.55"/>
<line x1="156.61" y1="607.20" x2="156.61" y2="613.90" stroke="#505050" stroke-width="1.1"/>
<line x1="156.61" y1="613.90" x2="156.61" y2="619.70" stroke="#505050" stroke-width="1.1" opacity="0.55"/>
<line x1="153.91" y1="607.20" x2="159.31" y2="607.20" stroke="#505050" stroke-width="1.1"/>
<line x1="153.91" y1="619.70" x2="159.31" y2="619.70" stroke="#505050" stroke-width="1.1" opacity="0.55"/>
<line x1="221.29" y1="619.90" x2="221.29" y2="624.60" stroke="#505050" stroke-width="1.1"/>
<line x1="221.29" y1="624.60" x2="221.29" y2="628.80" stroke="#505050" stroke-width="1.1" opacity="0.55"/>
<line x1="218.59" y1="619.90" x2="223.99" y2="619.90" stroke="#505050" stroke-width="1.1"/>
<line x1="218.59" y1="628.80" x2="223.99" y2="628.80" stroke="#505050" stroke-width="1.1" opacity="0.55"/>
<line x1="285.96" y1="622.40" x2="285.96" y2="626.00" stroke="#505050" stroke-width="1.1"/>
<line x1="285.96" y1="626.00" x2="285.96" y2="629.30" stroke="#505050" stroke-width="1.1" opacity="0.55"/>
<line x1="283.26" y1="622.40" x2="288.66" y2="622.40" stroke="#505050" stroke-width="1.1"/>
<line x1="283.26" y1="629.30" x2="288.66" y2="629.30" stroke="#505050" stroke-width="1.1" opacity="0.55"/>
<line x1="116.44" y1="630.90" x2="116.44" y2="639.80" stroke="#505050" stroke-width="1.1"/>
<line x1="116.44" y1="639.80" x2="116.44" y2="648.20" stroke="#505050" stroke-width="1.1" opacity="0.55"/>
<line x1="113.74" y1="630.90" x2="119.14" y2="630.90" stroke="#505050" stroke-width="1.1"/>
<line x1="113.74" y1="648.20" x2="119.14" y2="648.20" stroke="#505050" stroke-width="1.1" opacity="0.55"/>
<line x1="181.11" y1="647.50" x2="181.11" y2="649.70" stroke="#505050" stroke-width="1.1"/>
<line x1="181.11" y1="649.70" x2="181.11" y2="651.90" stroke="#505050" stroke-width="1.1" opacity="0.55"/>
<line x1="178.41" y1="647.50" x2="183.81" y2="647.50" stroke="#505050" stroke-width="1.1"/>
<line x1="178.41" y1="651.90" x2="183.81" y2="651.90" stroke="#505050" stroke-width="1.1" opacity="0.55"/>
<line x1="245.79" y1="658.10" x2="245.79" y2="661.40" stroke="#505050" stroke-width="1.1"/>
<line x1="245.79" y1="661.40" x2="245.79" y2="664.20" stroke="#505050" stroke-width="1.1" opacity="0.55"/>
<line x1="243.09" y1="658.10" x2="248.49" y2="658.10" stroke="#505050" stroke-width="1.1"/>
<line x1="243.09" y1="664.20" x2="248.49" y2="664.20" stroke="#505050" stroke-width="1.1" opacity="0.55"/>
<line x1="310.46" y1="655.80" x2="310.46" y2="662.30" stroke="#505050" stroke-width="1.1"/>
<line x1="310.46" y1="662.30" x2="310.46" y2="669.20" stroke="#505050" stroke-width="1.1" opacity="0.55"/>
<line x1="307.76" y1="655.80" x2="313.16" y2="655.80" stroke="#505050" stroke-width="1.1"/>
<line x1="307.76" y1="669.20" x2="313.16" y2="669.20" stroke="#505050" stroke-width="1.1" opacity="0.55"/>
<path d="M152.50,605.40L152.50,599.60M149.99,603.95L155.01,601.05M149.99,601.05L155.01,603.95" stroke="#4d4d4d" stroke-width="1.1" fill="none" stroke-linecap="round"/>
<path d="M162.50,605.40L162.50,599.60M159.99,603.95L165.01,601.05M159.99,601.05L165.01,603.95" stroke="#4d4d4d" stroke-width="1.1" fill="none" stroke-linecap="round"/>
<path d="M217.50,618.40L217.50,612.60M214.99,616.95L220.01,614.05M214.99,614.05L220.01,616.95" stroke="#4d4d4d" stroke-width="1.1" fill="none" stroke-linecap="round"/>
<path d="M227.50,618.40L227.50,612.60M224.99,616.95L230.01,614.05M224.99,614.05L230.01,616.95" stroke="#4d4d4d" stroke-width="1.1" fill="none" stroke-linecap="round"/>
<path d="M282.50,620.40L282.50,614.60M279.99,618.95L285.01,616.05M279.99,616.05L285.01,618.95" stroke="#4d4d4d" stroke-width="1.1" fill="none" stroke-linecap="round"/>
<path d="M291.50,620.40L291.50,614.60M288.99,618.95L294.01,616.05M288.99,616.05L294.01,618.95" stroke="#4d4d4d" stroke-width="1.1" fill="none" stroke-linecap="round"/>
<path d="M181.50,642.40L181.50,636.60M178.99,640.95L184.01,638.05M178.99,638.05L184.01,640.95" stroke="#4d4d4d" stroke-width="1.1" fill="none" stroke-linecap="round"/>
<path d="M245.50,656.40L245.50,650.60M242.99,654.95L248.01,652.05M242.99,652.05L248.01,654.95" stroke="#4d4d4d" stroke-width="1.1" fill="none" stroke-linecap="round"/>
<path d="M310.50,651.40L310.50,645.60M307.99,649.95L313.01,647.05M307.99,647.05L313.01,649.95" stroke="#4d4d4d" stroke-width="1.1" fill="none" stroke-linecap="round"/>
<line x1="72.00" y1="548.70" x2="72.00" y2="675.50" stroke="#404040" stroke-width="1.3"/>
<line x1="67.00" y1="675.50" x2="330.70" y2="675.50" stroke="#404040" stroke-width="1.3"/>
<line x1="67.00" y1="675.50" x2="72.00" y2="675.50" stroke="#404040" stroke-width="1.3"/>
<text x="49.62" y="678.80" font-size="11.4" fill="#333333" textLength="7.93" lengthAdjust="spacingAndGlyphs">0</text>
<line x1="67.00" y1="643.80" x2="72.00" y2="643.80" stroke="#404040" stroke-width="1.3"/>
<text x="37.90" y="647.10" font-size="11.4" fill="#333333" textLength="19.81" lengthAdjust="spacingAndGlyphs">0.2</text>
<line x1="67.00" y1="612.10" x2="72.00" y2="612.10" stroke="#404040" stroke-width="1.3"/>
<text x="37.61" y="615.40" font-size="11.4" fill="#333333" textLength="19.81" lengthAdjust="spacingAndGlyphs">0.4</text>
<line x1="67.00" y1="580.40" x2="72.00" y2="580.40" stroke="#404040" stroke-width="1.3"/>
<text x="37.81" y="583.70" font-size="11.4" fill="#333333" textLength="19.81" lengthAdjust="spacingAndGlyphs">0.6</text>
<line x1="67.00" y1="548.70" x2="72.00" y2="548.70" stroke="#404040" stroke-width="1.3"/>
<text x="37.81" y="552.00" font-size="11.4" fill="#333333" textLength="19.81" lengthAdjust="spacingAndGlyphs">0.8</text>
<rect x="228.30" y="546.30" width="7.50" height="6.00" fill="#4472c4"/>
<rect x="228.30" y="562.60" width="7.50" height="5.40" fill="#ed7d31"/>
<text x="240.30" y="552.60" font-size="10.6" font-weight="bold" fill="#222" textLength="63.82" lengthAdjust="spacingAndGlyphs">Q-3-O-Glu</text>
<text x="239.98" y="568.20" font-size="10.6" font-weight="bold" fill="#222" textLength="61.93" lengthAdjust="spacingAndGlyphs">K-3-O-Glu</text>
<rect x="456.25" y="166.50" width="28.40" height="100.10" fill="#4472c4"/>
<rect x="513.80" y="214.80" width="28.40" height="51.80" fill="#4472c4"/>
<rect x="571.40" y="225.80" width="28.40" height="40.80" fill="#4472c4"/>
<rect x="629.00" y="234.30" width="28.40" height="32.30" fill="#4472c4"/>
<line x1="470.45" y1="153.40" x2="470.45" y2="166.50" stroke="#505050" stroke-width="1.1"/>
<line x1="470.45" y1="166.50" x2="470.45" y2="180.00" stroke="#505050" stroke-width="1.1" opacity="0.55"/>
<line x1="467.75" y1="153.40" x2="473.15" y2="153.40" stroke="#505050" stroke-width="1.1"/>
<line x1="467.75" y1="180.00" x2="473.15" y2="180.00" stroke="#505050" stroke-width="1.1" opacity="0.55"/>
<line x1="528.00" y1="207.40" x2="528.00" y2="214.80" stroke="#505050" stroke-width="1.1"/>
<line x1="528.00" y1="214.80" x2="528.00" y2="221.20" stroke="#505050" stroke-width="1.1" opacity="0.55"/>
<line x1="525.30" y1="207.40" x2="530.70" y2="207.40" stroke="#505050" stroke-width="1.1"/>
<line x1="525.30" y1="221.20" x2="530.70" y2="221.20" stroke="#505050" stroke-width="1.1" opacity="0.55"/>
<line x1="585.60" y1="219.70" x2="585.60" y2="225.80" stroke="#505050" stroke-width="1.1"/>
<line x1="585.60" y1="225.80" x2="585.60" y2="231.90" stroke="#505050" stroke-width="1.1" opacity="0.55"/>
<line x1="582.90" y1="219.70" x2="588.30" y2="219.70" stroke="#505050" stroke-width="1.1"/>
<line x1="582.90" y1="231.90" x2="588.30" y2="231.90" stroke="#505050" stroke-width="1.1" opacity="0.55"/>
<line x1="643.20" y1="225.20" x2="643.20" y2="234.30" stroke="#505050" stroke-width="1.1"/>
<line x1="643.20" y1="234.30" x2="643.20" y2="243.50" stroke="#505050" stroke-width="1.1" opacity="0.55"/>
<line x1="640.50" y1="225.20" x2="645.90" y2="225.20" stroke="#505050" stroke-width="1.1"/>
<line x1="640.50" y1="243.50" x2="645.90" y2="243.50" stroke="#505050" stroke-width="1.1" opacity="0.55"/>
<path d="M524.50,204.40L524.50,198.60M521.99,202.95L527.01,200.05M521.99,200.05L527.01,202.95" stroke="#4d4d4d" stroke-width="1.1" fill="none" stroke-linecap="round"/>
<path d="M533.50,204.40L533.50,198.60M530.99,202.95L536.01,200.05M530.99,200.05L536.01,202.95" stroke="#4d4d4d" stroke-width="1.1" fill="none" stroke-linecap="round"/>
<path d="M581.50,216.40L581.50,210.60M578.99,214.95L584.01,212.05M578.99,212.05L584.01,214.95" stroke="#4d4d4d" stroke-width="1.1" fill="none" stroke-linecap="round"/>
<path d="M591.50,216.40L591.50,210.60M588.99,214.95L594.01,212.05M588.99,212.05L594.01,214.95" stroke="#4d4d4d" stroke-width="1.1" fill="none" stroke-linecap="round"/>
<path d="M639.50,223.40L639.50,217.60M636.99,221.95L642.01,219.05M636.99,219.05L642.01,221.95" stroke="#4d4d4d" stroke-width="1.1" fill="none" stroke-linecap="round"/>
<path d="M649.50,223.40L649.50,217.60M646.99,221.95L652.01,219.05M646.99,219.05L652.01,221.95" stroke="#4d4d4d" stroke-width="1.1" fill="none" stroke-linecap="round"/>
<line x1="441.20" y1="126.90" x2="441.20" y2="266.60" stroke="#404040" stroke-width="1.3"/>
<line x1="436.20" y1="266.60" x2="672.50" y2="266.60" stroke="#404040" stroke-width="1.3"/>
<line x1="436.20" y1="266.60" x2="441.20" y2="266.60" stroke="#404040" stroke-width="1.3"/>
<text x="419.02" y="269.90" font-size="11.4" fill="#333333" textLength="7.93" lengthAdjust="spacingAndGlyphs">0</text>
<line x1="436.20" y1="220.03" x2="441.20" y2="220.03" stroke="#404040" stroke-width="1.3"/>
<text x="399.35" y="223.33" font-size="11.4" fill="#333333" textLength="27.73" lengthAdjust="spacingAndGlyphs">0.01</text>
<line x1="436.20" y1="173.47" x2="441.20" y2="173.47" stroke="#404040" stroke-width="1.3"/>
<text x="399.38" y="176.77" font-size="11.4" fill="#333333" textLength="27.73" lengthAdjust="spacingAndGlyphs">0.02</text>
<line x1="436.20" y1="126.90" x2="441.20" y2="126.90" stroke="#404040" stroke-width="1.3"/>
<text x="399.28" y="130.20" font-size="11.4" fill="#333333" textLength="27.73" lengthAdjust="spacingAndGlyphs">0.03</text>
<text x="610.56" y="132.30" font-size="11.2" font-weight="bold" font-style="italic" fill="#222" textLength="48.94" lengthAdjust="spacingAndGlyphs">CsbZIP1</text>
<rect x="452.78" y="418.90" width="17.70" height="53.60" fill="#4f81bd"/>
<rect x="510.73" y="386.30" width="17.70" height="86.20" fill="#4f81bd"/>
<rect x="568.68" y="369.80" width="17.70" height="102.70" fill="#4f81bd"/>
<rect x="626.62" y="363.40" width="17.70" height="109.10" fill="#4f81bd"/>
<rect x="474.88" y="414.40" width="17.70" height="58.10" fill="#c0504d"/>
<rect x="532.83" y="418.40" width="17.70" height="54.10" fill="#c0504d"/>
<rect x="590.78" y="422.00" width="17.70" height="50.50" fill="#c0504d"/>
<rect x="648.73" y="423.60" width="17.70" height="48.90" fill="#c0504d"/>
<line x1="461.68" y1="412.80" x2="461.68" y2="418.90" stroke="#505050" stroke-width="1.1"/>
<line x1="461.68" y1="418.90" x2="461.68" y2="426.00" stroke="#505050" stroke-width="1.1" opacity="0.55"/>
<line x1="458.98" y1="412.80" x2="464.38" y2="412.80" stroke="#505050" stroke-width="1.1"/>
<line x1="458.98" y1="426.00" x2="464.38" y2="426.00" stroke="#505050" stroke-width="1.1" opacity="0.55"/>
<line x1="519.62" y1="382.60" x2="519.62" y2="386.30" stroke="#505050" stroke-width="1.1"/>
<line x1="519.62" y1="386.30" x2="519.62" y2="388.80" stroke="#505050" stroke-width="1.1" opacity="0.55"/>
<line x1="516.92" y1="382.60" x2="522.33" y2="382.60" stroke="#505050" stroke-width="1.1"/>
<line x1="516.92" y1="388.80" x2="522.33" y2="388.80" stroke="#505050" stroke-width="1.1" opacity="0.55"/>
<line x1="577.58" y1="362.50" x2="577.58" y2="369.80" stroke="#505050" stroke-width="1.1"/>
<line x1="577.58" y1="369.80" x2="577.58" y2="376.50" stroke="#505050" stroke-width="1.1" opacity="0.55"/>
<line x1="574.88" y1="362.50" x2="580.28" y2="362.50" stroke="#505050" stroke-width="1.1"/>
<line x1="574.88" y1="376.50" x2="580.28" y2="376.50" stroke="#505050" stroke-width="1.1" opacity="0.55"/>
<line x1="635.52" y1="355.80" x2="635.52" y2="363.40" stroke="#505050" stroke-width="1.1"/>
<line x1="635.52" y1="363.40" x2="635.52" y2="369.50" stroke="#505050" stroke-width="1.1" opacity="0.55"/>
<line x1="632.82" y1="355.80" x2="638.23" y2="355.80" stroke="#505050" stroke-width="1.1"/>
<line x1="632.82" y1="369.50" x2="638.23" y2="369.50" stroke="#505050" stroke-width="1.1" opacity="0.55"/>
<line x1="483.68" y1="410.70" x2="483.68" y2="414.40" stroke="#505050" stroke-width="1.1"/>
<line x1="483.68" y1="414.40" x2="483.68" y2="418.30" stroke="#505050" stroke-width="1.1" opacity="0.55"/>
<line x1="480.98" y1="410.70" x2="486.38" y2="410.70" stroke="#505050" stroke-width="1.1"/>
<line x1="480.98" y1="418.30" x2="486.38" y2="418.30" stroke="#505050" stroke-width="1.1" opacity="0.55"/>
<line x1="541.62" y1="415.30" x2="541.62" y2="418.40" stroke="#505050" stroke-width="1.1"/>
<line x1="541.62" y1="418.40" x2="541.62" y2="421.40" stroke="#505050" stroke-width="1.1" opacity="0.55"/>
<line x1="538.92" y1="415.30" x2="544.33" y2="415.30" stroke="#505050" stroke-width="1.1"/>
<line x1="538.92" y1="421.40" x2="544.33" y2="421.40" stroke="#505050" stroke-width="1.1" opacity="0.55"/>
<line x1="599.58" y1="415.90" x2="599.58" y2="422.00" stroke="#505050" stroke-width="1.1"/>
<line x1="599.58" y1="422.00" x2="599.58" y2="427.50" stroke="#505050" stroke-width="1.1" opacity="0.55"/>
<line x1="596.88" y1="415.90" x2="602.28" y2="415.90" stroke="#505050" stroke-width="1.1"/>
<line x1="596.88" y1="427.50" x2="602.28" y2="427.50" stroke="#505050" stroke-width="1.1" opacity="0.55"/>
<line x1="657.52" y1="420.50" x2="657.52" y2="423.60" stroke="#505050" stroke-width="1.1"/>
<line x1="657.52" y1="423.60" x2="657.52" y2="426.60" stroke="#505050" stroke-width="1.1" opacity="0.55"/>
<line x1="654.82" y1="420.50" x2="660.23" y2="420.50" stroke="#505050" stroke-width="1.1"/>
<line x1="654.82" y1="426.60" x2="660.23" y2="426.60" stroke="#505050" stroke-width="1.1" opacity="0.55"/>
<path d="M515.50,380.40L515.50,374.60M512.99,378.95L518.01,376.05M512.99,376.05L518.01,378.95" stroke="#4d4d4d" stroke-width="1.1" fill="none" stroke-linecap="round"/>
<path d="M525.50,380.40L525.50,374.60M522.99,378.95L528.01,376.05M522.99,376.05L528.01,378.95" stroke="#4d4d4d" stroke-width="1.1" fill="none" stroke-linecap="round"/>
<path d="M573.50,360.40L573.50,354.60M570.99,358.95L576.01,356.05M570.99,356.05L576.01,358.95" stroke="#4d4d4d" stroke-width="1.1" fill="none" stroke-linecap="round"/>
<path d="M583.50,360.40L583.50,354.60M580.99,358.95L586.01,356.05M580.99,356.05L586.01,358.95" stroke="#4d4d4d" stroke-width="1.1" fill="none" stroke-linecap="round"/>
<path d="M631.50,352.40L631.50,346.60M628.99,350.95L634.01,348.05M628.99,348.05L634.01,350.95" stroke="#4d4d4d" stroke-width="1.1" fill="none" stroke-linecap="round"/>
<path d="M641.50,352.40L641.50,346.60M638.99,350.95L644.01,348.05M638.99,348.05L644.01,350.95" stroke="#4d4d4d" stroke-width="1.1" fill="none" stroke-linecap="round"/>
<line x1="443.50" y1="336.90" x2="443.50" y2="472.50" stroke="#7a7a7a" stroke-width="1.1"/>
<line x1="438.50" y1="472.50" x2="675.50" y2="472.50" stroke="#7a7a7a" stroke-width="1.1"/>
<line x1="438.50" y1="472.50" x2="443.50" y2="472.50" stroke="#7a7a7a" stroke-width="1.1"/>
<text x="419.32" y="475.80" font-size="11.4" fill="#555555" textLength="7.93" lengthAdjust="spacingAndGlyphs">0</text>
<line x1="438.50" y1="427.30" x2="443.50" y2="427.30" stroke="#7a7a7a" stroke-width="1.1"/>
<text x="407.61" y="430.60" font-size="11.4" fill="#555555" textLength="19.81" lengthAdjust="spacingAndGlyphs">0.2</text>
<line x1="438.50" y1="382.10" x2="443.50" y2="382.10" stroke="#7a7a7a" stroke-width="1.1"/>
<text x="407.31" y="385.40" font-size="11.4" fill="#555555" textLength="19.81" lengthAdjust="spacingAndGlyphs">0.4</text>
<line x1="438.50" y1="336.90" x2="443.50" y2="336.90" stroke="#7a7a7a" stroke-width="1.1"/>
<text x="407.51" y="340.20" font-size="11.4" fill="#555555" textLength="19.81" lengthAdjust="spacingAndGlyphs">0.6</text>
<rect x="452.90" y="336.60" width="7.80" height="6.60" fill="#4f81bd"/>
<rect x="452.90" y="354.60" width="7.80" height="6.30" fill="#c0504d"/>
<text x="465.94" y="343.70" font-size="11.4" font-weight="bold" fill="#222" textLength="50.25" lengthAdjust="spacingAndGlyphs">CsbZIP1</text>
<text x="466.14" y="362.30" font-size="11.4" font-weight="bold" fill="#222" textLength="102.07" lengthAdjust="spacingAndGlyphs">AsODN-CsbZIP1</text>
<text x="599.74" y="334.00" font-size="10.8" font-weight="bold" font-style="italic" fill="#222" textLength="58.23" lengthAdjust="spacingAndGlyphs">CsMYB12</text>
<rect x="451.71" y="600.10" width="18.10" height="75.20" fill="#4472c4"/>
<rect x="510.74" y="580.80" width="18.10" height="94.50" fill="#4472c4"/>
<rect x="569.76" y="579.10" width="18.10" height="96.20" fill="#4472c4"/>
<rect x="628.79" y="562.10" width="18.10" height="113.20" fill="#4472c4"/>
<rect x="473.91" y="602.70" width="18.50" height="72.60" fill="#ed7d31"/>
<rect x="532.94" y="596.90" width="18.50" height="78.40" fill="#ed7d31"/>
<rect x="591.96" y="601.30" width="18.50" height="74.00" fill="#ed7d31"/>
<rect x="650.99" y="605.40" width="18.50" height="69.90" fill="#ed7d31"/>
<line x1="460.81" y1="589.00" x2="460.81" y2="600.10" stroke="#505050" stroke-width="1.1"/>
<line x1="460.81" y1="600.10" x2="460.81" y2="612.40" stroke="#505050" stroke-width="1.1" opacity="0.55"/>
<line x1="458.11" y1="589.00" x2="463.51" y2="589.00" stroke="#505050" stroke-width="1.1"/>
<line x1="458.11" y1="612.40" x2="463.51" y2="612.40" stroke="#505050" stroke-width="1.1" opacity="0.55"/>
<line x1="519.84" y1="578.80" x2="519.84" y2="580.80" stroke="#505050" stroke-width="1.1"/>
<line x1="519.84" y1="580.80" x2="519.84" y2="583.20" stroke="#505050" stroke-width="1.1" opacity="0.55"/>
<line x1="517.14" y1="578.80" x2="522.54" y2="578.80" stroke="#505050" stroke-width="1.1"/>
<line x1="517.14" y1="583.20" x2="522.54" y2="583.20" stroke="#505050" stroke-width="1.1" opacity="0.55"/>
<line x1="578.86" y1="573.80" x2="578.86" y2="579.10" stroke="#505050" stroke-width="1.1"/>
<line x1="578.86" y1="579.10" x2="578.86" y2="583.80" stroke="#505050" stroke-width="1.1" opacity="0.55"/>
<line x1="576.16" y1="573.80" x2="581.56" y2="573.80" stroke="#505050" stroke-width="1.1"/>
<line x1="576.16" y1="583.80" x2="581.56" y2="583.80" stroke="#505050" stroke-width="1.1" opacity="0.55"/>
<line x1="637.89" y1="558.30" x2="637.89" y2="562.10" stroke="#505050" stroke-width="1.1"/>
<line x1="637.89" y1="562.10" x2="637.89" y2="564.70" stroke="#505050" stroke-width="1.1" opacity="0.55"/>
<line x1="635.19" y1="558.30" x2="640.59" y2="558.30" stroke="#505050" stroke-width="1.1"/>
<line x1="635.19" y1="564.70" x2="640.59" y2="564.70" stroke="#505050" stroke-width="1.1" opacity="0.55"/>
<line x1="483.21" y1="596.30" x2="483.21" y2="602.70" stroke="#505050" stroke-width="1.1"/>
<line x1="483.21" y1="602.70" x2="483.21" y2="609.50" stroke="#505050" stroke-width="1.1" opacity="0.55"/>
<line x1="480.51" y1="596.30" x2="485.91" y2="596.30" stroke="#505050" stroke-width="1.1"/>
<line x1="480.51" y1="609.50" x2="485.91" y2="609.50" stroke="#505050" stroke-width="1.1" opacity="0.55"/>
<line x1="542.24" y1="593.40" x2="542.24" y2="596.90" stroke="#505050" stroke-width="1.1"/>
<line x1="542.24" y1="596.90" x2="542.24" y2="600.70" stroke="#505050" stroke-width="1.1" opacity="0.55"/>
<line x1="539.54" y1="593.40" x2="544.94" y2="593.40" stroke="#505050" stroke-width="1.1"/>
<line x1="539.54" y1="600.70" x2="544.94" y2="600.70" stroke="#505050" stroke-width="1.1" opacity="0.55"/>
<line x1="601.26" y1="594.90" x2="601.26" y2="601.30" stroke="#505050" stroke-width="1.1"/>
<line x1="601.26" y1="601.30" x2="601.26" y2="608.10" stroke="#505050" stroke-width="1.1" opacity="0.55"/>
<line x1="598.56" y1="594.90" x2="603.96" y2="594.90" stroke="#505050" stroke-width="1.1"/>
<line x1="598.56" y1="608.10" x2="603.96" y2="608.10" stroke="#505050" stroke-width="1.1" opacity="0.55"/>
<line x1="660.29" y1="601.30" x2="660.29" y2="605.40" stroke="#505050" stroke-width="1.1"/>
<line x1="660.29" y1="605.40" x2="660.29" y2="609.50" stroke="#505050" stroke-width="1.1" opacity="0.55"/>
<line x1="657.59" y1="601.30" x2="662.99" y2="601.30" stroke="#505050" stroke-width="1.1"/>
<line x1="657.59" y1="609.50" x2="662.99" y2="609.50" stroke="#505050" stroke-width="1.1" opacity="0.55"/>
<path d="M519.50,574.40L519.50,568.60M516.99,572.95L522.01,570.05M516.99,570.05L522.01,572.95" stroke="#4d4d4d" stroke-width="1.1" fill="none" stroke-linecap="round"/>
<path d="M574.50,571.40L574.50,565.60M571.99,569.95L577.01,567.05M571.99,567.05L577.01,569.95" stroke="#4d4d4d" stroke-width="1.1" fill="none" stroke-linecap="round"/>
<path d="M584.50,571.40L584.50,565.60M581.99,569.95L587.01,567.05M581.99,567.05L587.01,569.95" stroke="#4d4d4d" stroke-width="1.1" fill="none" stroke-linecap="round"/>
<path d="M633.50,555.40L633.50,549.60M630.99,553.95L636.01,551.05M630.99,551.05L636.01,553.95" stroke="#4d4d4d" stroke-width="1.1" fill="none" stroke-linecap="round"/>
<path d="M643.50,555.40L643.50,549.60M640.99,553.95L646.01,551.05M640.99,551.05L646.01,553.95" stroke="#4d4d4d" stroke-width="1.1" fill="none" stroke-linecap="round"/>
<line x1="442.50" y1="545.10" x2="442.50" y2="675.30" stroke="#404040" stroke-width="1.3"/>
<line x1="437.50" y1="675.30" x2="678.60" y2="675.30" stroke="#404040" stroke-width="1.3"/>
<line x1="437.50" y1="675.30" x2="442.50" y2="675.30" stroke="#404040" stroke-width="1.3"/>
<text x="420.22" y="678.60" font-size="11.4" fill="#333333" textLength="7.93" lengthAdjust="spacingAndGlyphs">0</text>
<line x1="437.50" y1="653.60" x2="442.50" y2="653.60" stroke="#404040" stroke-width="1.3"/>
<text x="420.36" y="656.90" font-size="11.4" fill="#333333" textLength="7.93" lengthAdjust="spacingAndGlyphs">1</text>
<line x1="437.50" y1="631.90" x2="442.50" y2="631.90" stroke="#404040" stroke-width="1.3"/>
<text x="420.39" y="635.20" font-size="11.4" fill="#333333" textLength="7.93" lengthAdjust="spacingAndGlyphs">2</text>
<line x1="437.50" y1="610.20" x2="442.50" y2="610.20" stroke="#404040" stroke-width="1.3"/>
<text x="420.29" y="613.50" font-size="11.4" fill="#333333" textLength="7.93" lengthAdjust="spacingAndGlyphs">3</text>
<line x1="437.50" y1="588.50" x2="442.50" y2="588.50" stroke="#404040" stroke-width="1.3"/>
<text x="420.09" y="591.80" font-size="11.4" fill="#333333" textLength="7.93" lengthAdjust="spacingAndGlyphs">4</text>
<line x1="437.50" y1="566.80" x2="442.50" y2="566.80" stroke="#404040" stroke-width="1.3"/>
<text x="420.26" y="570.10" font-size="11.4" fill="#333333" textLength="7.93" lengthAdjust="spacingAndGlyphs">5</text>
<line x1="437.50" y1="545.10" x2="442.50" y2="545.10" stroke="#404040" stroke-width="1.3"/>
<text x="420.29" y="548.40" font-size="11.4" fill="#333333" textLength="7.93" lengthAdjust="spacingAndGlyphs">6</text>
<rect x="460.60" y="541.80" width="7.30" height="5.80" fill="#4472c4"/>
<rect x="460.60" y="554.80" width="7.30" height="5.60" fill="#ed7d31"/>
<text x="473.30" y="547.90" font-size="11.2" font-weight="bold" fill="#222" textLength="47.38" lengthAdjust="spacingAndGlyphs">Control</text>
<text x="473.55" y="561.00" font-size="11.2" font-weight="bold" fill="#222" textLength="98.35" lengthAdjust="spacingAndGlyphs">AsODN-CsbZIP1</text>
<text x="84.61" y="290.20" font-size="11.4" fill="#333333" textLength="47.62" lengthAdjust="spacingAndGlyphs">Control</text>
<text x="161.64" y="290.20" font-size="11.4" fill="#333333" textLength="15.72" lengthAdjust="spacingAndGlyphs">48</text>
<text x="222.08" y="290.20" font-size="11.4" fill="#333333" textLength="16.28" lengthAdjust="spacingAndGlyphs">72</text>
<text x="283.03" y="290.20" font-size="11.4" fill="#333333" textLength="16.09" lengthAdjust="spacingAndGlyphs">96</text>
<line x1="148.00" y1="293.90" x2="321.30" y2="293.90" stroke="#595959" stroke-width="1.3"/>
<text x="156.01" y="311.20" font-size="11.4" font-weight="bold" fill="#222" textLength="150.83" lengthAdjust="spacingAndGlyphs">UV-B radiation time (h)</text>
<text x="77.72" y="501.90" font-size="11.4" fill="#333333" textLength="47.10" lengthAdjust="spacingAndGlyphs">Control</text>
<text x="160.05" y="501.90" font-size="11.4" fill="#333333" textLength="15.30" lengthAdjust="spacingAndGlyphs">48</text>
<text x="225.87" y="501.90" font-size="11.4" fill="#333333" textLength="15.84" lengthAdjust="spacingAndGlyphs">72</text>
<text x="292.20" y="501.90" font-size="11.4" fill="#333333" textLength="15.66" lengthAdjust="spacingAndGlyphs">96</text>
<line x1="148.20" y1="505.60" x2="321.00" y2="505.60" stroke="#595959" stroke-width="1.3"/>
<text x="159.01" y="523.60" font-size="11.4" font-weight="bold" fill="#222" textLength="150.53" lengthAdjust="spacingAndGlyphs">UV-B radiation time (h)</text>
<text x="80.63" y="695.20" font-size="11.4" fill="#333333" textLength="46.27" lengthAdjust="spacingAndGlyphs">Control</text>
<text x="161.26" y="695.20" font-size="11.4" fill="#333333" textLength="14.87" lengthAdjust="spacingAndGlyphs">48</text>
<text x="225.52" y="695.20" font-size="11.4" fill="#333333" textLength="15.40" lengthAdjust="spacingAndGlyphs">72</text>
<text x="290.27" y="695.20" font-size="11.4" fill="#333333" textLength="15.22" lengthAdjust="spacingAndGlyphs">96</text>
<line x1="144.30" y1="699.80" x2="319.60" y2="699.80" stroke="#595959" stroke-width="1.3"/>
<text x="160.61" y="717.10" font-size="11.4" font-weight="bold" fill="#222" textLength="151.23" lengthAdjust="spacingAndGlyphs">UV-B radiation time (h)</text>
<text x="447.64" y="287.40" font-size="11.4" fill="#333333" textLength="45.76" lengthAdjust="spacingAndGlyphs">Control</text>
<text x="520.76" y="287.40" font-size="11.4" fill="#333333" textLength="14.87" lengthAdjust="spacingAndGlyphs">48</text>
<text x="577.94" y="287.40" font-size="11.4" fill="#333333" textLength="15.40" lengthAdjust="spacingAndGlyphs">72</text>
<text x="635.62" y="287.40" font-size="11.4" fill="#333333" textLength="15.22" lengthAdjust="spacingAndGlyphs">96</text>
<line x1="515.00" y1="294.00" x2="673.40" y2="294.00" stroke="#595959" stroke-width="1.3"/>
<text x="516.21" y="307.90" font-size="11.4" font-weight="bold" fill="#222" textLength="151.34" lengthAdjust="spacingAndGlyphs">UV-B radiation time (h)</text>
<text x="448.50" y="494.60" font-size="11.4" fill="#555555" textLength="48.45" lengthAdjust="spacingAndGlyphs">Control</text>
<text x="523.37" y="494.60" font-size="11.4" fill="#555555" textLength="13.92" lengthAdjust="spacingAndGlyphs">48</text>
<text x="580.94" y="494.60" font-size="11.4" fill="#555555" textLength="14.41" lengthAdjust="spacingAndGlyphs">72</text>
<text x="638.96" y="494.60" font-size="11.4" fill="#555555" textLength="14.24" lengthAdjust="spacingAndGlyphs">96</text>
<line x1="513.60" y1="501.70" x2="672.50" y2="501.70" stroke="#595959" stroke-width="1.3"/>
<text x="519.41" y="517.40" font-size="11.4" font-weight="bold" fill="#222" textLength="151.74" lengthAdjust="spacingAndGlyphs">UV-B radiation time (h)</text>
<text x="448.53" y="694.90" font-size="11.4" fill="#333333" textLength="46.69" lengthAdjust="spacingAndGlyphs">Control</text>
<text x="523.87" y="694.90" font-size="11.4" fill="#333333" textLength="14.34" lengthAdjust="spacingAndGlyphs">48</text>
<text x="582.49" y="694.90" font-size="11.4" fill="#333333" textLength="14.85" lengthAdjust="spacingAndGlyphs">72</text>
<text x="641.59" y="694.90" font-size="11.4" fill="#333333" textLength="14.68" lengthAdjust="spacingAndGlyphs">96</text>
<line x1="500.30" y1="699.80" x2="672.70" y2="699.80" stroke="#595959" stroke-width="1.3"/>
<text x="517.01" y="715.90" font-size="11.4" font-weight="bold" fill="#222" textLength="151.54" lengthAdjust="spacingAndGlyphs">UV-B radiation time (h)</text>
<text transform="translate(17.60,238.35) rotate(-90)" x="-0.76" y="0" font-size="13.8" font-weight="bold" fill="#222" textLength="109.87" lengthAdjust="spacingAndGlyphs">Relative Expression</text>
<text transform="translate(35.80,237.65) rotate(-90)" x="-0.56" y="0" font-size="12.5" font-weight="bold" fill="#222" textLength="105.51" lengthAdjust="spacingAndGlyphs">(Ratio  to <tspan font-weight="bold" font-style="italic">CsACTIN</tspan>)</text>
<text transform="translate(18.60,455.35) rotate(-90)" x="-0.77" y="0" font-size="13.8" font-weight="bold" fill="#222" textLength="110.89" lengthAdjust="spacingAndGlyphs">Relative Expression</text>
<text transform="translate(36.60,452.75) rotate(-90)" x="-0.56" y="0" font-size="12.5" font-weight="bold" fill="#222" textLength="106.93" lengthAdjust="spacingAndGlyphs">(Ratio  to <tspan font-weight="bold" font-style="italic">CsACTIN</tspan>)</text>
<text transform="translate(365.80,243.35) rotate(-90)" x="-0.76" y="0" font-size="13.8" font-weight="bold" fill="#222" textLength="109.87" lengthAdjust="spacingAndGlyphs">Relative Expression</text>
<text transform="translate(383.80,240.65) rotate(-90)" x="-0.56" y="0" font-size="12.5" font-weight="bold" fill="#222" textLength="106.12" lengthAdjust="spacingAndGlyphs">(Ratio  to <tspan font-weight="bold" font-style="italic">CsACTIN</tspan>)</text>
<text transform="translate(372.80,455.35) rotate(-90)" x="-0.76" y="0" font-size="13.8" font-weight="bold" fill="#222" textLength="109.87" lengthAdjust="spacingAndGlyphs">Relative Expression</text>
<text transform="translate(390.80,452.75) rotate(-90)" x="-0.56" y="0" font-size="12.5" font-weight="bold" fill="#222" textLength="106.22" lengthAdjust="spacingAndGlyphs">(Ratio  to <tspan font-weight="bold" font-style="italic">CsACTIN</tspan>)</text>
<text transform="translate(27.40,677.25) rotate(-90)" x="-0.78" y="0" font-size="13.6" font-weight="bold" fill="#222" textLength="116.76" lengthAdjust="spacingAndGlyphs">Flavonols (mg/g FW)</text>
<text transform="translate(382.30,678.75) rotate(-90)" x="-0.78" y="0" font-size="13.6" font-weight="bold" fill="#222" textLength="116.46" lengthAdjust="spacingAndGlyphs">Flavonols (mg/g FW)</text>
</svg></body></html>
